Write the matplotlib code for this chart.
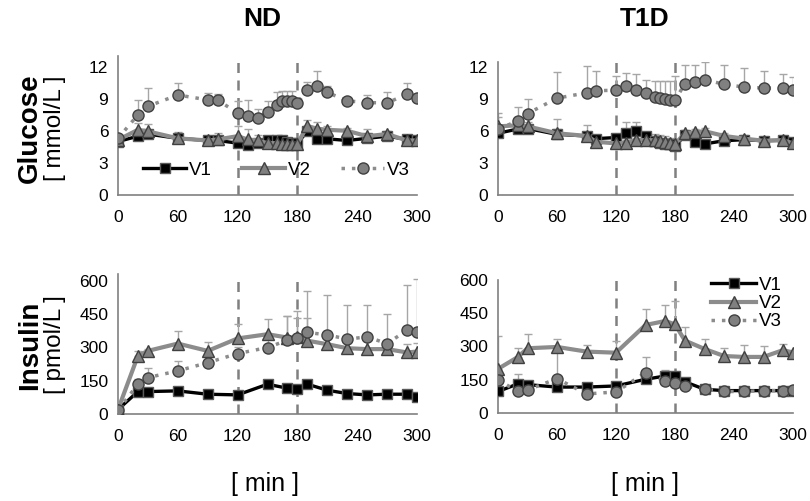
import matplotlib
matplotlib.use("Agg")
import matplotlib.pyplot as plt
import numpy as np

plt.rcParams['font.family'] = ['Liberation Sans', 'DejaVu Sans']

# time points (min)
t_glu = [0, 20, 30, 60, 90, 100, 120, 130, 140, 150, 160, 165, 170, 175, 180,
         190, 200, 210, 230, 250, 270, 290, 300]
t_ins = [0, 20, 30, 60, 90, 120, 150, 170, 180, 190, 210, 230, 250, 270, 290, 300]

# glucose, ND (mmol/L)
nd_glu_v1 = [5.0, 5.5, 5.7, 5.3, 5.1, 5.1, 4.85, 4.7, 4.9, 5.1, 5.1, 5.1, 5.0, 4.9, 4.85,
             5.95, 5.25, 5.25, 5.1, 5.3, 5.5, 5.2, 5.1]
nd_glu_v2 = [5.15, 6.1, 5.95, 5.3, 5.1, 5.2, 5.5, 5.2, 5.1, 4.85, 4.85, 4.8, 4.8, 4.8, 4.8,
             6.45, 6.2, 6.1, 6.0, 5.5, 5.7, 5.1, 5.1]
nd_glu_v3 = [5.3, 7.5, 8.3, 9.35, 8.9, 8.85, 7.7, 7.4, 7.2, 7.8, 8.45, 8.75, 8.75, 8.75, 8.6,
             9.85, 10.2, 9.6, 8.8, 8.65, 8.6, 9.45, 9.05]
nd_glu_e1 = [0.1, 0.4, 0.4, 0.2, 0.1, 0.1, 0.2, 0.2, 0.2, 0.2, 0.2, 0.2, 0.2, 0.2, 0.2,
             0.5, 0.2, 0.2, 0.2, 0.2, 0.2, 0.2, 0.2]
nd_glu_e2 = [0.1, 0.6, 0.65, 0.6, 0.1, 0.6, 0.95, 1.0, 0.55, 0.3, 0.2, 0.2, 0.2, 0.2, 0.2,
             0.55, 0.6, 0.4, 0.3, 0.65, 0.3, 0.2, 0.2]
nd_glu_e3 = [0.2, 1.4, 1.75, 1.15, 0.6, 0.55, 1.1, 1.5, 0.85, 0.95, 1.2, 1.0, 1.0, 1.0, 0.3,
             0.7, 1.4, 0.6, 0.2, 0.7, 1.0, 1.0, 0.3]

# glucose, T1D (mmol/L)
t1_glu_v1 = [5.8, 6.2, 6.25, 5.7, 5.55, 5.3, 5.4, 5.85, 6.05, 5.55, 5.1, 4.9, 4.8, 4.8, 4.6,
             5.6, 4.95, 4.8, 5.1, 5.2, 5.1, 5.15, 5.0]
t1_glu_v2 = [6.45, 6.55, 6.45, 5.8, 5.55, 5.0, 4.85, 4.9, 5.2, 5.15, 5.15, 5.1, 5.0, 4.9, 4.8,
             5.8, 5.9, 6.0, 5.55, 5.3, 5.1, 5.15, 4.85]
t1_glu_v3 = [6.2, 6.95, 7.65, 9.1, 9.6, 9.8, 9.85, 10.2, 9.85, 9.55, 9.25, 9.1, 9.05, 8.9, 8.9,
             10.45, 10.6, 10.85, 10.4, 10.15, 10.05, 10.05, 9.9]
t1_glu_e1 = [0.3, 0.3, 0.3, 0.5, 0.3, 0.3, 0.3, 1.0, 0.85, 0.4, 0.4, 0.3, 0.3, 0.3, 0.3,
             0.3, 0.3, 0.3, 0.3, 0.3, 0.3, 0.3, 0.3]
t1_glu_e2 = [0.9, 0.7, 0.4, 1.3, 1.05, 0.3, 0.3, 0.3, 0.4, 0.8, 0.6, 0.5, 0.5, 0.5, 0.3,
             0.3, 0.3, 0.3, 0.3, 0.3, 0.3, 0.3, 0.3]
t1_glu_e3 = [1.5, 1.35, 1.4, 2.45, 2.5, 1.9, 1.3, 1.3, 1.55, 1.3, 1.5, 1.6, 1.7, 1.8, 2.25,
             1.8, 1.6, 1.65, 1.8, 1.75, 1.65, 1.35, 1.2]

# insulin, ND (pmol/L)
nd_ins_v1 = [20, 101, 101, 104, 89, 86, 134, 116, 111, 134, 107, 92, 86, 89, 89, 78]
nd_ins_v2 = [20, 262, 284, 317, 284, 340, 359, 344, 345, 330, 314, 296, 292, 292, 277, 281]
nd_ins_v3 = [17, 134, 164, 194, 231, 272, 299, 332, 344, 367, 356, 337, 347, 317, 377, 371]
nd_ins_e1 = [3, 10, 8, 8, 8, 15, 12, 10, 12, 15, 10, 8, 8, 8, 8, 8]
nd_ins_e2 = [3, 20, 10, 57, 42, 67, 68, 98, 120, 100, 60, 40, 40, 40, 40, 40]
nd_ins_e3 = [3, 25, 45, 45, 30, 30, 40, 110, 90, 185, 180, 153, 143, 133, 203, 235]

# insulin, T1D (pmol/L)
t1_ins_v1 = [97, 131, 128, 117, 117, 122, 152, 167, 167, 141, 107, 101, 101, 101, 101, 101]
t1_ins_v2 = [199, 252, 292, 298, 277, 272, 397, 415, 400, 327, 289, 257, 253, 253, 284, 272]
t1_ins_v3 = [150, 97, 104, 155, 86, 95, 182, 144, 137, 122, 107, 97, 97, 101, 101, 104]
t1_ins_e1 = [10, 44, 15, 10, 10, 15, 15, 27, 15, 10, 8, 8, 8, 8, 8, 8]
t1_ins_e2 = [150, 40, 63, 36, 29, 52, 73, 74, 107, 61, 45, 35, 53, 49, 29, 10]
t1_ins_e3 = [10, 10, 10, 145, 10, 10, 71, 10, 10, 10, 10, 10, 10, 10, 10, 10]

labels = ['V1', 'V2', 'V3']
styles = [
    dict(color='black', lw=2.4, marker='s', ms=7, mfc='black', mec='#595959', mew=1, ls='-'),
    dict(color='#8c8c8c', lw=3.0, marker='^', ms=8, mfc='#808080', mec='#404040', mew=1, ls='-'),
    dict(color='#8c8c8c', lw=2.5, marker='o', ms=8, mfc='#808080', mec='#404040', mew=1,
         ls=(0, (1, 2))),
]


def panel(ax, t, series, errs, ylim, yticks):
    for i, (y, e) in enumerate(zip(series, errs)):
        ax.errorbar(t, y, yerr=[np.zeros(len(e)), e], fmt='none', ecolor='#a6a6a6',
                    elinewidth=1, capsize=3, capthick=1, zorder=2)
    for i, y in enumerate(series):
        ax.plot(t, y, label=labels[i], zorder=3 + i, **styles[i])
    for x in (120, 180):
        ax.axvline(x, color='#808080', lw=1.8, ls=(0, (4, 3)), zorder=1)
    ax.set_xlim(0, 300)
    ax.set_ylim(*ylim)
    ax.set_xticks([0, 60, 120, 180, 240, 300])
    ax.set_yticks(yticks)
    ax.tick_params(length=0, labelsize=12.5, colors='black')
    ax.tick_params(axis='x', pad=11)
    ax.tick_params(axis='y', pad=7)
    for s in ('top', 'right'):
        ax.spines[s].set_visible(False)
    for s in ('left', 'bottom'):
        ax.spines[s].set_color('#808080')
        ax.spines[s].set_linewidth(1.2)
    ax.patch.set_alpha(0)


fig = plt.figure(figsize=(8.1, 5.01), dpi=100)
W, H = 810.0, 501.0


def axes_px(x0, x1, y_bottom, y_top):
    return fig.add_axes([x0 / W, 1 - y_bottom / H, (x1 - x0) / W, (y_bottom - y_top) / H])


ax1 = axes_px(118, 417, 195, 56)
ax2 = axes_px(498, 793, 195, 62)
ax3 = axes_px(118, 417, 414, 274)
ax4 = axes_px(498, 793, 413, 280)

panel(ax1, t_glu, [nd_glu_v1, nd_glu_v2, nd_glu_v3], [nd_glu_e1, nd_glu_e2, nd_glu_e3],
      (0, 13), [0, 3, 6, 9, 12])
panel(ax2, t_glu, [t1_glu_v1, t1_glu_v2, t1_glu_v3], [t1_glu_e1, t1_glu_e2, t1_glu_e3],
      (0, 12.5), [0, 3, 6, 9, 12])
panel(ax3, t_ins, [nd_ins_v1, nd_ins_v2, nd_ins_v3], [nd_ins_e1, nd_ins_e2, nd_ins_e3],
      (0, 630), [0, 150, 300, 450, 600])
panel(ax4, t_ins, [t1_ins_v1, t1_ins_v2, t1_ins_v3], [t1_ins_e1, t1_ins_e2, t1_ins_e3],
      (0, 600), [0, 150, 300, 450, 600])

ax1.legend(loc='center', bbox_to_anchor=(0.53, 0.18), ncol=3, frameon=False, fontsize=13.5,
           numpoints=1, handlelength=2.3, columnspacing=1.6, handletextpad=0.15)
ax4.legend(loc='upper right', bbox_to_anchor=(1.02, 1.15), frameon=False, fontsize=13.5,
           numpoints=1, handlelength=2.4, handletextpad=0.15, labelspacing=0.05)

fig.text(262 / W, 1 - 19 / H, 'ND', ha='center', va='center', fontsize=19, fontweight='bold')
fig.text(645 / W, 1 - 19 / H, 'T1D', ha='center', va='center', fontsize=19, fontweight='bold')
fig.text(30 / W, 1 - 128 / H, 'Glucose', rotation=90, ha='center', va='center',
         fontsize=20, fontweight='bold')
fig.text(55 / W, 1 - 128 / H, '[ mmol/L ]', rotation=90, ha='center', va='center', fontsize=17.5)
fig.text(30 / W, 1 - 345 / H, 'Insulin', rotation=90, ha='center', va='center',
         fontsize=20, fontweight='bold')
fig.text(55 / W, 1 - 345 / H, '[ pmol/L ]', rotation=90, ha='center', va='center', fontsize=17.5)
fig.text(265 / W, 1 - 484 / H, '[ min ]', ha='center', va='center', fontsize=18)
fig.text(645 / W, 1 - 484 / H, '[ min ]', ha='center', va='center', fontsize=18)

fig.savefig('out.png', dpi=100)
